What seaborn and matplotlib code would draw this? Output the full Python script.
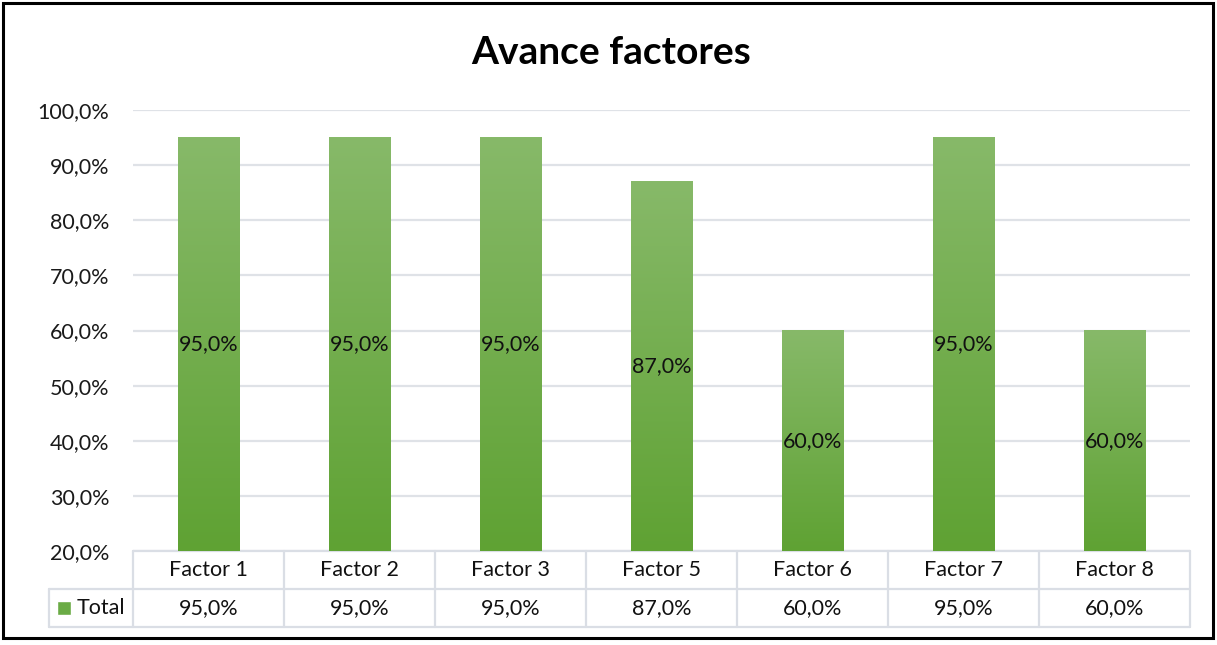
import numpy as np
import pandas as pd
import seaborn as sns
import matplotlib.pyplot as plt
from matplotlib.colors import LinearSegmentedColormap
from matplotlib.patches import Rectangle
from matplotlib.transforms import blended_transform_factory

factores = ['Factor 1', 'Factor 2', 'Factor 3', 'Factor 5', 'Factor 6', 'Factor 7', 'Factor 8']
total = [95.0, 95.0, 95.0, 87.0, 60.0, 95.0, 60.0]
serie = 'Total'

def pct(v):
    return f'{v:.1f}'.replace('.', ',') + '%'

sns.set_style('white')
plt.rcParams['font.family'] = ['Lato', 'DejaVu Sans']
fs = 15.5

df = pd.DataFrame({'factor': factores, 'valor': total})

fig = plt.figure(figsize=(12.17, 6.45), dpi=100)
ax = fig.add_axes([133/1217, 1 - 551/645, (1190 - 133)/1217, (551 - 110)/645])

base = 20
sns.barplot(data=df, x='factor', y='valor', color='#6aab45', width=0.41, ax=ax,
            bottom=0, zorder=3)

# degradado de las barras
verde = LinearSegmentedColormap.from_list('verde', ['#5fa233', '#87b969'])
grad = np.linspace(0, 1, 256).reshape(-1, 1)
for p in ax.patches:
    x0, w, h = p.get_x(), p.get_width(), p.get_height()
    ax.imshow(grad, extent=[x0, x0 + w, base, h], origin='lower', aspect='auto',
              cmap=verde, zorder=3)
    p.set_visible(False)

ax.set_xlim(-0.5, len(factores) - 0.5)
ax.set_ylim(base, 100)
ax.set_yticks(np.arange(20, 101, 10))
ax.set_yticklabels([pct(v) for v in np.arange(20, 101, 10)], fontsize=fs, color='#1a1a1a')
ax.tick_params(axis='y', length=0, pad=17)
ax.set_xticks([])
ax.set_xlabel('')
ax.set_ylabel('')
ax.grid(axis='y', color='#dfe2e7', linewidth=1.6, zorder=0)
for s in ax.spines.values():
    s.set_visible(False)

# etiquetas en el centro de las barras
for i, v in enumerate(total):
    ax.text(i, (base + v) / 2, pct(v), ha='center', va='center', fontsize=fs,
            color='#111111', zorder=4)

# tabla de datos
tr = blended_transform_factory(ax.transData, ax.transAxes)
rh = 38 / 441
lc = '#dadee5'
n = len(factores)
xl = -0.5 - (133 - 49) / 151
ax.plot([-0.5, n - 0.5], [0, 0], color=lc, lw=1.6, transform=tr, clip_on=False)
ax.plot([xl, n - 0.5], [-rh, -rh], color=lc, lw=1.6, transform=tr, clip_on=False)
ax.plot([xl, n - 0.5], [-2 * rh, -2 * rh], color=lc, lw=1.6, transform=tr, clip_on=False)
ax.plot([xl, xl], [-rh, -2 * rh], color=lc, lw=1.6, transform=tr, clip_on=False)
for k in range(n + 1):
    ax.plot([k - 0.5, k - 0.5], [0, -2 * rh], color=lc, lw=1.6, transform=tr, clip_on=False)
for i, (f, v) in enumerate(zip(factores, total)):
    ax.text(i, -0.5 * rh, f, ha='center', va='center', fontsize=fs, color='#111111', transform=tr)
    ax.text(i, -1.5 * rh, pct(v), ha='center', va='center', fontsize=fs, color='#111111', transform=tr)
ax.add_patch(Rectangle((xl + 8 / 151, -1.5 * rh - 7 / 441), 14 / 151, 14 / 441, transform=tr,
                       facecolor='#6aab45', clip_on=False))
ax.text(xl + 28 / 151, -1.5 * rh, serie, ha='left', va='center', fontsize=fs,
        color='#111111', transform=tr)

fig.text(0.502, 1 - 52 / 645, 'Avance factores', ha='center', va='center',
         fontsize=28, fontweight='bold', color='#000000')

fig.patches.append(Rectangle((3 / 1217, 1 - 638 / 645), 1210 / 1217, 635 / 645,
                             transform=fig.transFigure, fill=False, edgecolor='black', lw=2.2))

fig.savefig('out.png', dpi=100)
